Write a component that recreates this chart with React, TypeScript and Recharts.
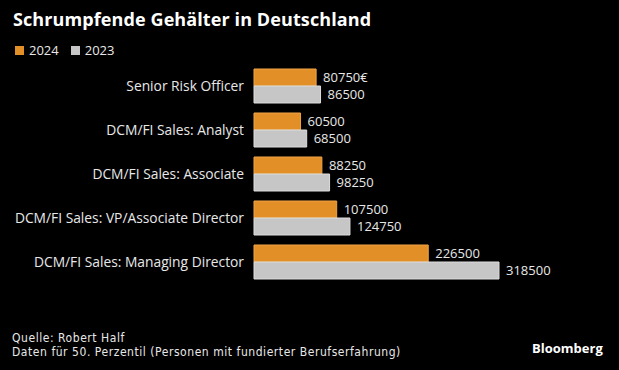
import React from "react";
import { BarChart, Bar, XAxis, YAxis, LabelList } from "recharts";

const categories = [
  "Senior Risk Officer",
  "DCM/FI Sales: Analyst",
  "DCM/FI Sales: Associate",
  "DCM/FI Sales: VP/Associate Director",
  "DCM/FI Sales: Managing Director",
];
const values2024 = [80750, 60500, 88250, 107500, 226500];
const values2023 = [86500, 68500, 98250, 124750, 318500];
const labels2024 = ["80750€", "60500", "88250", "107500", "226500"];
const labels2023 = ["86500", "68500", "98250", "124750", "318500"];
const seriesNames = ["2024", "2023"];

const data = categories.map((c, i) => ({
  name: c,
  v2024: values2024[i],
  v2023: values2023[i],
  l2024: labels2024[i],
  l2023: labels2023[i],
}));

const ORANGE = "#e38f28";
const GRAY = "#c6c6c6";
const TEXT = "#e8e8e8";
const FONT = "'Open Sans', 'Noto Sans', sans-serif";
const NARROW = "'DejaVu Sans Condensed', 'Liberation Sans Narrow', sans-serif";

export default function App() {
  return (
    <div
      style={{
        position: "absolute",
        left: 0,
        top: 0,
        width: 619,
        height: 370,
        background: "#000",
        overflow: "hidden",
        fontFamily: FONT,
      }}
    >
      <div
        style={{
          position: "absolute",
          left: 13,
          top: 7,
          fontSize: 18,
          fontWeight: 700,
          letterSpacing: 0.1,
          color: "#ffffff",
          fontFamily: "'Open Sans', sans-serif",
          whiteSpace: "nowrap",
        }}
      >
        Schrumpfende Gehälter in Deutschland
      </div>
      <div
        style={{
          position: "absolute",
          left: 15,
          top: 41,
          display: "flex",
          alignItems: "center",
          fontSize: 13,
          color: TEXT,
        }}
      >
        <span style={{ width: 9, height: 9, background: ORANGE, display: "inline-block", marginRight: 5 }} />
        <span style={{ marginRight: 12 }}>{seriesNames[0]}</span>
        <span style={{ width: 9, height: 9, background: GRAY, display: "inline-block", marginRight: 5 }} />
        <span>{seriesNames[1]}</span>
      </div>
      <div style={{ position: "absolute", left: 0, top: 0 }}>
        <BarChart
          width={619}
          height={370}
          data={data}
          layout="vertical"
          margin={{ top: 64, right: 120, bottom: 86, left: 0 }}
          barCategoryGap={5}
          barGap={0}
        >
          <XAxis type="number" domain={[0, 318500]} hide />
          <YAxis
            type="category"
            dataKey="name"
            width={254}
            axisLine={false}
            tickLine={false}
            tickSize={0}
            tickMargin={10}
            interval={0}
            tick={{ fill: TEXT, fontSize: 13.8, fontFamily: FONT }}
          />
          <Bar dataKey="v2024" fill={ORANGE} stroke="#f0a444" strokeWidth={1} isAnimationActive={false}>
            <LabelList dataKey="l2024" position="right" offset={7} fill={TEXT} fontSize={13} fontFamily={FONT} />
          </Bar>
          <Bar dataKey="v2023" fill={GRAY} stroke="#dddddd" strokeWidth={1} isAnimationActive={false}>
            <LabelList dataKey="l2023" position="right" offset={7} fill={TEXT} fontSize={13} fontFamily={FONT} />
          </Bar>
        </BarChart>
      </div>
      <div
        style={{
          position: "absolute",
          left: 12,
          top: 330.6,
          fontSize: 12,
          lineHeight: "14px",
          letterSpacing: 0.55,
          color: TEXT,
          fontFamily: NARROW,
          whiteSpace: "nowrap",
        }}
      >
        <div>Quelle: Robert Half</div>
        <div>Daten für 50. Perzentil (Personen mit fundierter Berufserfahrung)</div>
      </div>
      <div
        style={{
          position: "absolute",
          left: 532,
          top: 339,
          fontSize: 13,
          fontWeight: 700,
          color: "#ffffff",
          fontFamily: FONT,
          lineHeight: "normal",
        }}
      >
        Bloomberg
      </div>
    </div>
  );
}
